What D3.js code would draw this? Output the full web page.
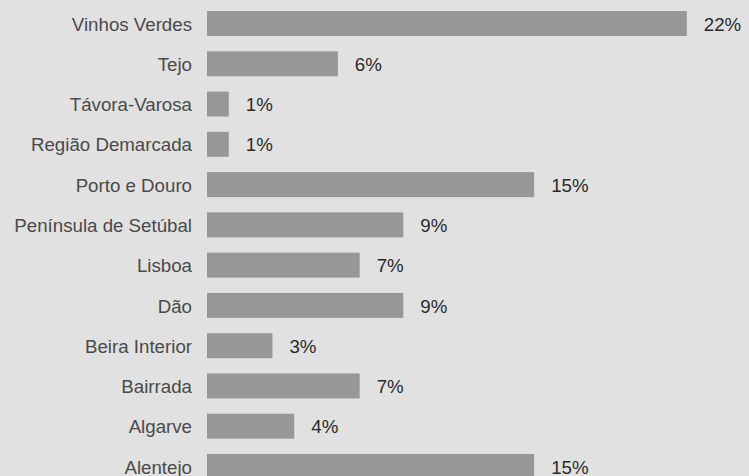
<!DOCTYPE html>
<html>
<head>
<meta charset="utf-8">
<script src="https://cdn.jsdelivr.net/npm/d3@7"></script>
<style>
  html, body { margin: 0; padding: 0; background: #e1e1e1; }
  svg { display: block; }
  text { font-family: "Liberation Sans", Arial, sans-serif; }
</style>
</head>
<body>
<svg id="chart" width="749" height="476"></svg>
<script>
// Wine regions and their share (%)
const regions = [
  "Vinhos Verdes", "Tejo", "Távora-Varosa", "Região Demarcada",
  "Porto e Douro", "Península de Setúbal", "Lisboa", "Dão",
  "Beira Interior", "Bairrada", "Algarve", "Alentejo"
];
const shares = [22, 6, 1, 1, 15, 9, 7, 9, 3, 7, 4, 15];
const valueLabels = shares.map(v => v + "%");

const rows = regions.map((r, i) => ({ region: r, share: shares[i], label: valueLabels[i] }));

const svg = d3.select("#chart");
const W = 749, H = 476;

svg.append("rect").attr("width", W).attr("height", H).attr("fill", "#e1e1e1");

const x = d3.scaleLinear().domain([0, 22.1]).range([207, 689]);
const y = d3.scaleBand()
  .domain(regions)
  .range([3.4, 486.6])
  .paddingInner(0.38)
  .paddingOuter(0.19);

const g = svg.append("g");

g.selectAll("rect.bar")
  .data(rows)
  .join("rect")
  .attr("class", "bar")
  .attr("x", x(0))
  .attr("y", d => y(d.region))
  .attr("width", d => x(d.share) - x(0))
  .attr("height", y.bandwidth())
  .attr("fill", "#979797");

// Category labels via a left axis without lines
const axis = d3.axisLeft(y).tickSize(0).tickPadding(0);
const ax = svg.append("g")
  .attr("transform", "translate(192,0)")
  .call(axis);
ax.select(".domain").remove();
ax.selectAll("text")
  .attr("font-size", 18.7)
  .attr("dy", "0.38em")
  .attr("fill", "#4a4a4a")
  .style("font-family", "'Liberation Sans', Arial, sans-serif");

g.selectAll("text.val")
  .data(rows)
  .join("text")
  .attr("class", "val")
  .attr("x", d => x(d.share) + 17)
  .attr("y", d => y(d.region) + y.bandwidth() / 2)
  .attr("dy", "0.38em")
  .attr("font-size", 18.7)
  .attr("fill", "#2a2a2a")
  .text(d => d.label);
</script>
</body>
</html>
